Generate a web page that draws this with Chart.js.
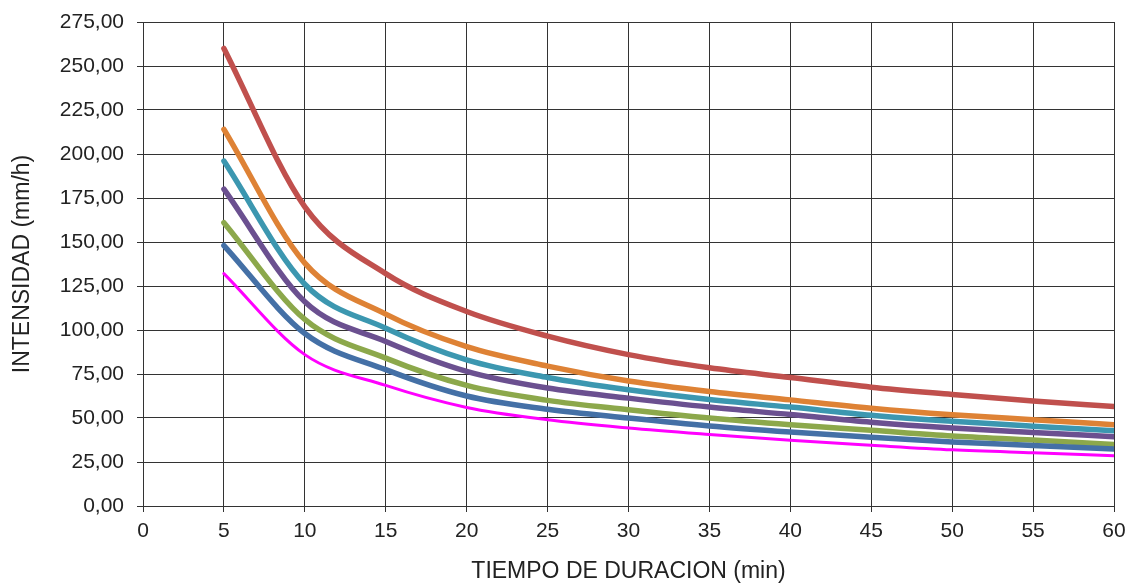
<!DOCTYPE html>
<html>
<head>
<meta charset="utf-8">
<title>Curvas IDF</title>
<script src="https://cdn.jsdelivr.net/npm/chart.js@4.4.1/dist/chart.umd.min.js"></script>
<style>
  html, body { margin:0; padding:0; background:#fff; }
  #wrap { width:1130px; height:585px; }
</style>
</head>
<body>
<div id="wrap"><canvas id="idfChart" width="1130" height="585"></canvas></div>
<script>
// duracion (min)
const minutes = [5, 10, 15, 20, 25, 30, 35, 40, 45, 50, 55, 60];

// intensidades (mm/h) por periodo de retorno
const serieRed     = [260, 170, 132, 110.5, 96.5, 86, 78.5, 73, 67.5, 63.4, 59.6, 56.5];
const serieOrange  = [214, 138, 109, 90.5, 79.5, 71, 65, 60.3, 55.6, 51.9, 49, 46.2];
const serieTeal    = [196, 126, 101, 83, 73, 66, 60.5, 56.2, 51.6, 48.1, 45.3, 42.8];
const seriePurple  = [180, 116, 93.5, 76.5, 67, 61.3, 56.2, 52, 47.6, 44.3, 41.8, 39.4];
const serieGreen   = [161, 106, 84, 68.5, 60, 54.7, 50, 46.2, 43, 39.8, 37.5, 35];
const serieBlue    = [148, 98, 77.5, 62.5, 55, 50, 45.5, 42, 39, 36.4, 34.4, 32.4];
const serieMagenta = [132, 86, 68.5, 56, 49, 44.3, 40.6, 37.3, 34.5, 31.9, 30.2, 28.6];

const xTicks = [0, 5, 10, 15, 20, 25, 30, 35, 40, 45, 50, 55, 60];
const yMax = 275;

const FONT = "'Liberation Sans', Arial, sans-serif";
const GRID = "#333333";

function pts(arr){
  return minutes.map((m, i) => ({ x: m, y: arr[i] }));
}

function ds(arr, color, width){
  return {
    data: pts(arr),
    borderColor: color,
    backgroundColor: color,
    borderWidth: width,
    pointRadius: 0,
    cubicInterpolationMode: "monotone",
    borderCapStyle: "round",
    fill: false
  };
}

function coma(v){
  return Number(v).toFixed(2).replace(".", ",");
}

new Chart(document.getElementById("idfChart").getContext("2d"), {
  type: "line",
  data: {
    datasets: [
      ds(serieMagenta, "#ff00ff", 3),
      ds(serieBlue, "#4470a6", 5.5),
      ds(serieGreen, "#8ca84b", 5.5),
      ds(seriePurple, "#6b5090", 5.5),
      ds(serieTeal, "#3c97b0", 5.5),
      ds(serieOrange, "#de8235", 5.5),
      ds(serieRed, "#c0504d", 5.5)
    ]
  },
  options: {
    responsive: false,
    animation: false,
    devicePixelRatio: 1,
    layout: { padding: { top: 22, right: 16, left: 0, bottom: 0 } },
    plugins: { legend: { display: false }, tooltip: { enabled: false } },
    scales: {
      x: {
        type: "linear",
        min: 0,
        max: 60,
        afterBuildTicks: (s) => { s.ticks = xTicks.map(v => ({ value: v })); },
        // alto fijo y sin relleno extra a la derecha (lo pone layout.padding)
        afterFit: (s) => { s.height = 79; s.paddingRight = 0; s.paddingLeft = 0; },
        ticks: { color: "#222", padding: 7, font: { family: FONT, size: 21 }, maxRotation: 0 },
        grid: { color: GRID, lineWidth: 1, tickLength: 6 },
        border: { color: GRID, width: 1 },
        title: { display: true, text: "TIEMPO DE DURACION (min)", color: "#222", padding: { top: 0, bottom: 0 }, font: { family: FONT, size: 23 } }
      },
      y: {
        min: 0,
        max: yMax,
        ticks: { stepSize: 25, color: "#222", padding: 13, font: { family: FONT, size: 21 }, callback: (v) => coma(v) },
        afterFit: (s) => { s.width = 143; s.paddingTop = 0; s.paddingBottom = 0; },
        grid: { color: GRID, lineWidth: 1, tickLength: 6 },
        border: { color: GRID, width: 1 },
        title: { display: true, text: "INTENSIDAD (mm/h)", color: "#222", padding: { top: 9, bottom: 0 }, font: { family: FONT, size: 23 } }
      }
    }
  }
});
</script>
</body>
</html>
